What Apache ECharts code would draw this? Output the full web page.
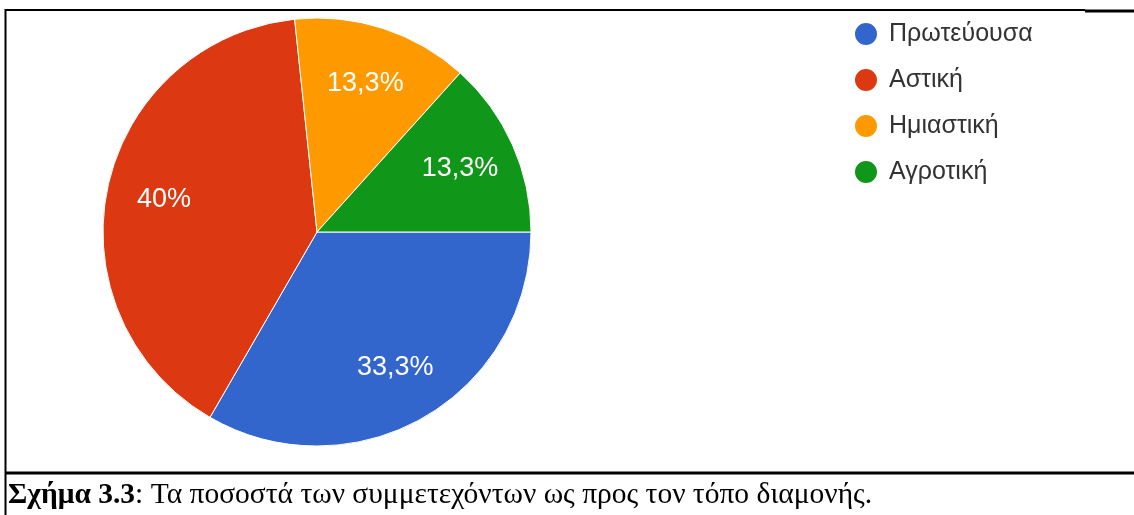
<!DOCTYPE html>
<html>
<head>
<meta charset="utf-8">
<script src="https://cdn.jsdelivr.net/npm/echarts@6/dist/echarts.min.js"></script>
<style>
html,body{margin:0;padding:0;background:#fff;}
#c{width:1134px;height:515px;}
</style>
</head>
<body>
<div id="c"></div>
<script>
const categories = ['Πρωτεύουσα', 'Αστική', 'Ημιαστική', 'Αγροτική'];
const counts = [5, 6, 2, 2];
const colors = ['#3366cc', '#dc3912', '#ff9900', '#109618'];
const captionBold = 'Σχήμα 3.3';
const captionText = ': Τα ποσοστά των συμμετεχόντων ως προς τον τόπο διαμονής.';

const total = counts.reduce((a, b) => a + b, 0);
function pct(v) {
  let s = (Math.round(v / total * 1000) / 10).toString();
  return s.replace('.', ',') + '%';
}
const pieData = categories.map((n, i) => ({ name: n, value: counts[i], itemStyle: { color: colors[i] } }));
const labelData = categories.map((n, i) => ({ name: n, value: counts[i] }));

const chart = echarts.init(document.getElementById('c'), null, { renderer: 'canvas' });
chart.setOption({
  backgroundColor: '#fff',
  animation: false,
  title: {
    left: 8, top: 480, padding: 0,
    text: '{b|' + captionBold + '}{n|' + captionText + '}',
    textStyle: {
      rich: {
        b: { fontFamily: 'Liberation Serif', fontWeight: 'bold', fontSize: 29.5, color: '#000' },
        n: { fontFamily: 'Liberation Serif', fontWeight: 'normal', fontSize: 29.5, color: '#000' }
      }
    }
  },
  legend: {
    orient: 'vertical',
    left: 848, top: 16,
    icon: 'circle',
    itemWidth: 24, itemHeight: 24,
    itemGap: 20,
    data: categories,
    textStyle: { fontFamily: 'Liberation Sans', fontSize: 25, color: '#333', padding: [0, 0, 0, 6] }
  },
  graphic: [
    { type: 'line', shape: { x1: 5, y1: 10, x2: 1085, y2: 10 }, style: { stroke: '#000', lineWidth: 2 } },
    { type: 'line', shape: { x1: 1085, y1: 11, x2: 1134, y2: 11 }, style: { stroke: '#000', lineWidth: 3 } },
    { type: 'line', shape: { x1: 5.5, y1: 9, x2: 5.5, y2: 515 }, style: { stroke: '#000', lineWidth: 2 } },
    { type: 'line', shape: { x1: 5, y1: 473, x2: 1134, y2: 473 }, style: { stroke: '#000', lineWidth: 3 } }
  ],
  series: [
    {
      type: 'pie',
      center: [317, 232],
      radius: [0, 214],
      startAngle: 0,
      clockwise: true,
      silent: true,
      label: { show: false },
      labelLine: { show: false },
      itemStyle: { borderColor: '#fff', borderWidth: 1 },
      data: pieData
    },
    {
      type: 'pie',
      center: [317, 232],
      radius: [93, 214],
      startAngle: 0,
      clockwise: true,
      silent: true,
      itemStyle: { color: 'rgba(0,0,0,0)' },
      labelLine: { show: false },
      label: {
        show: true,
        position: 'inside',
        fontFamily: 'Liberation Sans',
        fontSize: 27,
        color: '#fff',
        formatter: p => pct(p.value)
      },
      data: labelData
    }
  ]
});
</script>
</body>
</html>
